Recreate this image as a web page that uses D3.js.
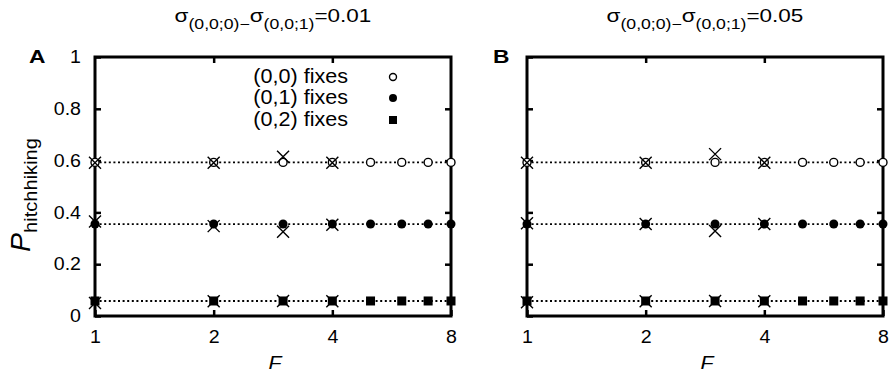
<!DOCTYPE html>
<html><head><meta charset="utf-8">
<script src="https://cdn.jsdelivr.net/npm/d3@7"></script>
<style>
body{margin:0;background:#fff}
svg{display:block}
text{font-family:"Liberation Sans",Arial,Helvetica,sans-serif;fill:#000}
</style>
</head><body>
<svg id="c" width="892" height="375"></svg>
<script>
// ---------- data ----------
const F_theory = [1, 2, 3, 4, 5, 6, 7, 8];
const F_sim = [1, 2, 3, 4];
const xTicks = [1, 2, 4, 8];
const yTicks = [0, 0.2, 0.4, 0.6, 0.8, 1];
const seriesNames = ["(0,0) fixes", "(0,1) fixes", "(0,2) fixes"];
const panelLabels = ["A", "B"];
const panelDelta = ["0.01", "0.05"];

// panel A, theory
const theoryA00 = [0.593, 0.593, 0.593, 0.593, 0.593, 0.593, 0.593, 0.593];
const theoryA01 = [0.355, 0.355, 0.355, 0.355, 0.355, 0.355, 0.355, 0.355];
const theoryA02 = [0.058, 0.058, 0.058, 0.058, 0.058, 0.058, 0.058, 0.058];
// panel A, simulation (crosses)
const simA00 = [0.592, 0.592, 0.615, 0.592];
const simA01 = [0.365, 0.347, 0.325, 0.352];
const simA02 = [0.050, 0.057, 0.058, 0.057];
// panel B, theory
const theoryB00 = [0.593, 0.593, 0.593, 0.593, 0.593, 0.593, 0.593, 0.593];
const theoryB01 = [0.355, 0.355, 0.355, 0.355, 0.355, 0.355, 0.355, 0.355];
const theoryB02 = [0.058, 0.058, 0.058, 0.058, 0.058, 0.058, 0.058, 0.058];
// panel B, simulation (crosses)
const simB00 = [0.592, 0.592, 0.625, 0.592];
const simB01 = [0.358, 0.355, 0.328, 0.355];
const simB02 = [0.053, 0.057, 0.058, 0.057];

const panels = [
  {label: panelLabels[0], delta: panelDelta[0], theory: [theoryA00, theoryA01, theoryA02], sim: [simA00, simA01, simA02], x0: 95, x1: 451, legend: true},
  {label: panelLabels[1], delta: panelDelta[1], theory: [theoryB00, theoryB01, theoryB02], sim: [simB00, simB01, simB02], x0: 527, x1: 883, legend: false}
];

const svg = d3.select("#c");
const TOP = 57, BOT = 316;
const K = 1.12; // horizontal glyph stretch

function stretch(sel, k) {
  sel.each(function () {
    const t = d3.select(this);
    const x = +t.attr("x") || 0;
    t.attr("transform", `translate(${x * (1 - k)},0) scale(${k},1)`);
  });
}
function fitAbout(node, ax, targetW) {
  const w = node.getBBox().width;
  const k = targetW / w;
  d3.select(node).attr("transform", `translate(${ax * (1 - k)},0) scale(${k},1)`);
}

const symbols = [
  g => g.append("circle").attr("r", 4).attr("fill", "#fff").attr("stroke", "#000").attr("stroke-width", 1.4),
  g => g.append("circle").attr("r", 4.5).attr("fill", "#000"),
  g => g.append("rect").attr("x", -4.5).attr("y", -4.5).attr("width", 9).attr("height", 9).attr("fill", "#000")
];

panels.forEach((p, pi) => {
  const x = d3.scaleLog().base(2).domain([1, 8]).range([p.x0, p.x1]);
  const y = d3.scaleLinear().domain([0, 1]).range([BOT, TOP]);
  const g = svg.append("g");

  // axes
  const left = g.append("g").attr("transform", `translate(${p.x0},0)`)
    .call(d3.axisLeft(y).tickValues(yTicks).tickSize(-6).tickPadding(14).tickFormat(d => String(d)));
  const right = g.append("g").attr("transform", `translate(${p.x1},0)`)
    .call(d3.axisRight(y).tickValues(yTicks.slice(1, -1)).tickSize(-6).tickFormat(""));
  const bottom = g.append("g").attr("transform", `translate(0,${BOT})`)
    .call(d3.axisBottom(x).tickValues(xTicks).tickSize(-6).tickPadding(15).tickFormat(d => String(d)));
  const top = g.append("g").attr("transform", `translate(0,${TOP})`)
    .call(d3.axisTop(x).tickValues(xTicks.slice(1, -1)).tickSize(-6).tickFormat(""));
  [left, right, bottom, top].forEach(a => {
    a.select(".domain").remove();
    a.selectAll(".tick line").attr("stroke", "#000").attr("stroke-width", 2.5);
    a.selectAll(".tick text").style("font-size", "17.5px").attr("fill", "#000").call(stretch, K);
  });
  if (pi === 1) left.selectAll(".tick text").remove();

  // frame
  g.append("rect").attr("x", p.x0).attr("y", TOP).attr("width", p.x1 - p.x0).attr("height", BOT - TOP)
    .attr("fill", "none").attr("stroke", "#000").attr("stroke-width", 3);

  // theory lines (dotted)
  const line = d3.line().x((d, i) => x(F_theory[i])).y(d => y(d));
  p.theory.forEach(s => {
    g.append("path").attr("d", line(s)).attr("fill", "none").attr("stroke", "#000")
      .attr("stroke-width", 1.8).attr("stroke-dasharray", "2,2.6");
  });
  // theory markers
  p.theory.forEach((s, si) => {
    s.forEach((v, i) => {
      const m = g.append("g").attr("transform", `translate(${x(F_theory[i])},${y(v)})`);
      symbols[si](m);
    });
  });
  // simulation crosses
  p.sim.forEach(s => {
    s.forEach((v, i) => {
      g.append("path").attr("transform", `translate(${x(F_sim[i])},${y(v)})`)
        .attr("d", "M-6,-6L6,6M-6,6L6,-6").attr("stroke", "#000").attr("stroke-width", 1.4).attr("fill", "none");
    });
  });

  // panel label
  const lab = g.append("text").attr("x", pi === 0 ? 29 : 493).attr("y", 63)
    .style("font-size", "19px").style("font-weight", "bold").text(p.label);
  stretch(lab, 1.2);

  // title
  const cx = (p.x0 + p.x1) / 2;
  const t = g.append("text").attr("x", cx).attr("y", 22).attr("text-anchor", "middle").style("font-size", "18.5px");
  t.append("tspan").text("σ");
  t.append("tspan").attr("dy", 7).style("font-size", "14.5px").text("(0,0;0)−");
  t.append("tspan").attr("dy", -7).text("σ");
  t.append("tspan").attr("dy", 7).style("font-size", "14.5px").text("(0,0;1)");
  t.append("tspan").attr("dy", -7).text("=" + p.delta);
  fitAbout(t.node(), cx, 197);

  // x label
  const fl = g.append("text").attr("x", cx + 2).attr("y", 369).attr("text-anchor", "middle")
    .style("font-size", "19px").style("font-style", "italic").text("F");
  stretch(fl, K);

  // legend
  if (p.legend) {
    const ly = [77, 98, 120];
    seriesNames.forEach((nm, si) => {
      const tx = g.append("text").attr("x", 348).attr("y", ly[si] + 6.5).attr("text-anchor", "end")
        .style("font-size", "19.5px").text(nm);
      fitAbout(tx.node(), 348, 95);
      const m = g.append("g").attr("transform", `translate(393,${ly[si]})`);
      const s = symbols[si](m);
      if (si === 0) s.attr("r", 3.5);
      if (si === 1) s.attr("r", 4);
      if (si === 2) s.attr("x", -4).attr("y", -4).attr("width", 8).attr("height", 8);
    });
  }
});

// y label
const yl = svg.append("g").attr("transform", "translate(30,252) rotate(-90)");
const yt = yl.append("text").attr("x", 0).attr("y", 0).style("font-size", "27px");
yt.append("tspan").style("font-style", "italic").text("P");
yt.append("tspan").attr("dy", 7).style("font-size", "19px").text("hitchhiking");
fitAbout(yt.node(), 0, 114);
</script>
</body></html>
